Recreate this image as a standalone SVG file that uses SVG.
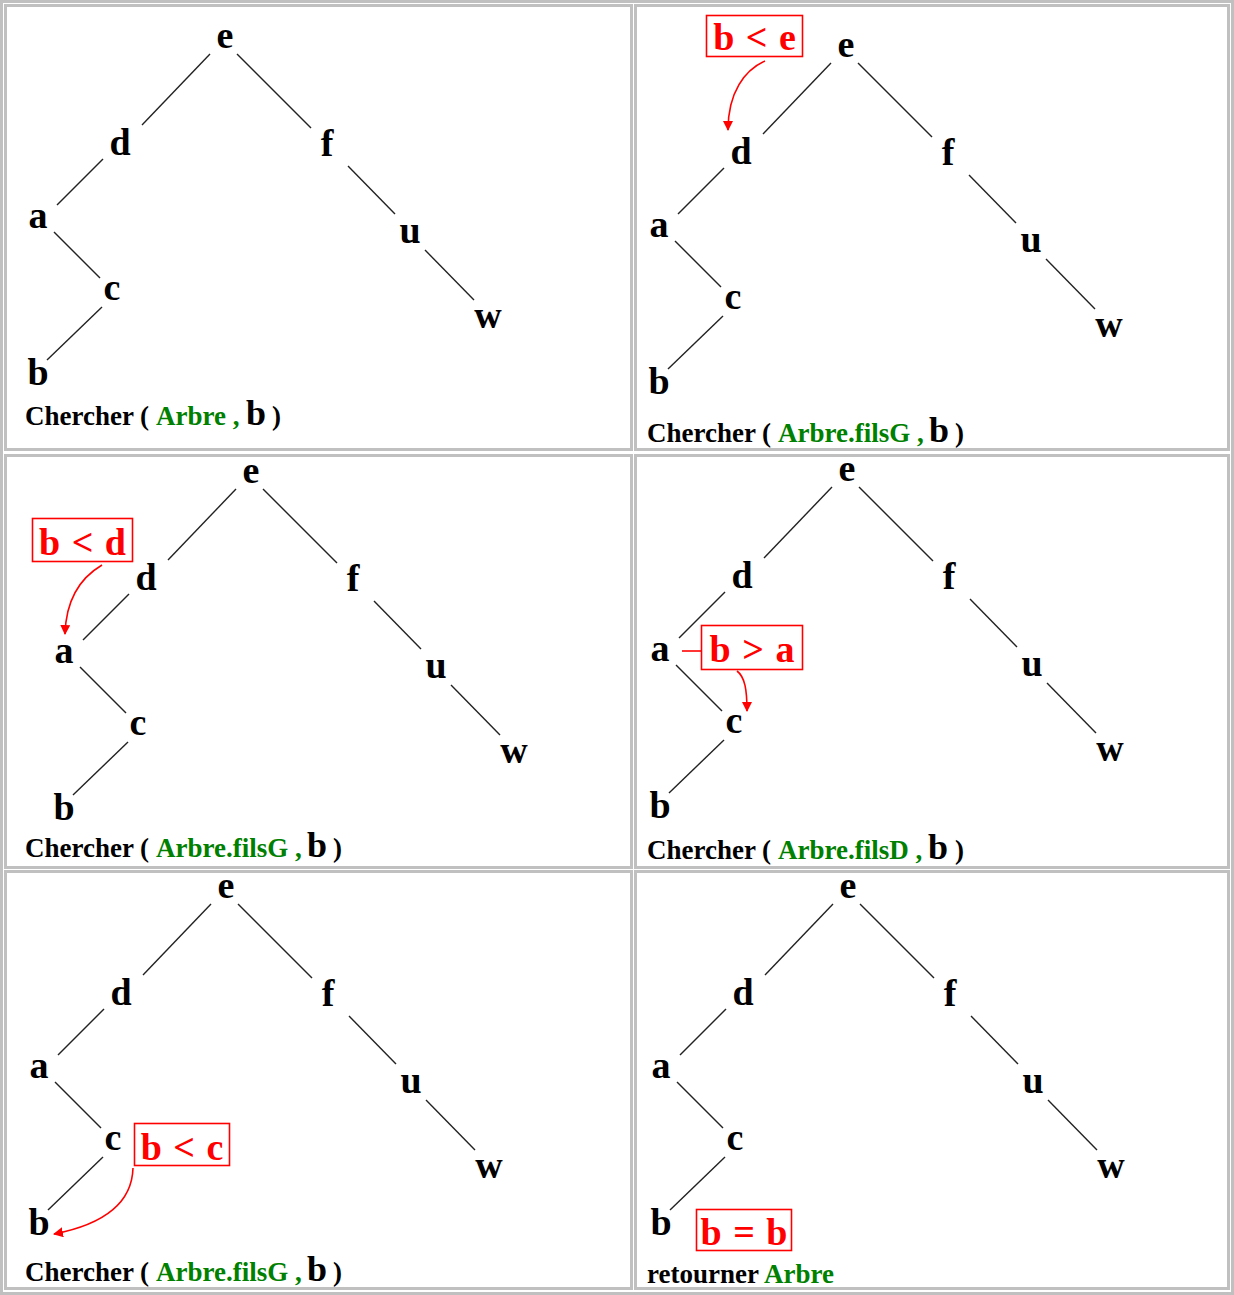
<svg xmlns="http://www.w3.org/2000/svg" width="1234" height="1295" viewBox="0 0 1234 1295">
<style>
.cell{fill:#fff;stroke:#c0c0c0;stroke-width:3}
.n{font-family:"Liberation Serif","Times New Roman",serif;font-weight:bold;font-size:38px;fill:#000;text-anchor:middle}
.e{stroke:#222;stroke-width:1.4;fill:none}
.t{font-family:"Liberation Serif","Times New Roman",serif;font-weight:bold;font-size:27px;fill:#000}
.g{fill:#008000}
.big{font-size:36px}
.box{fill:none;stroke:#ff0000;stroke-width:1.6}
.bt{font-family:"Liberation Serif","Times New Roman",serif;font-weight:bold;font-size:38px;fill:#ff0000;text-anchor:middle;word-spacing:2px}
.arr{fill:none;stroke:#ff0000;stroke-width:1.6}
</style>
<defs>
<marker id="ah" viewBox="0 0 10 10" refX="9" refY="5" markerWidth="10" markerHeight="10" markerUnits="userSpaceOnUse" orient="auto">
<path d="M0,0 L10,5 L0,10 z" fill="#ff0000"/>
</marker>
</defs>
<rect x="0" y="0" width="1234" height="1295" fill="#fff"/>
<rect x="1.5" y="1.5" width="1231" height="1292" fill="none" stroke="#c0c0c0" stroke-width="3"/>
<rect class="cell" x="5.5" y="5.5" width="626" height="444"/>
<rect class="cell" x="635.5" y="5.5" width="593" height="444"/>
<rect class="cell" x="5.5" y="455.5" width="626" height="412"/>
<rect class="cell" x="635.5" y="455.5" width="593" height="412"/>
<rect class="cell" x="5.5" y="871.5" width="626" height="417"/>
<rect class="cell" x="635.5" y="871.5" width="593" height="417"/>

<!-- Panel 1 -->
<g id="panel1">
<g id="p1-connectors">
<line class="e" x1="210" y1="54" x2="142" y2="125"/>
<line class="e" x1="237" y1="54" x2="311" y2="128"/>
<line class="e" x1="103" y1="159" x2="57" y2="205"/>
<line class="e" x1="54" y1="232" x2="100" y2="278"/>
<line class="e" x1="102" y1="307" x2="47" y2="360"/>
<line class="e" x1="348" y1="166" x2="395" y2="214"/>
<line class="e" x1="425" y1="250" x2="474" y2="300"/>
</g>
<g id="p1-e"><text class="n" x="225" y="48">e</text></g>
<g id="p1-d"><text class="n" x="120" y="155">d</text></g>
<g id="p1-f"><text class="n" x="327" y="156">f</text></g>
<g id="p1-a"><text class="n" x="38" y="228">a</text></g>
<g id="p1-c"><text class="n" x="112" y="300">c</text></g>
<g id="p1-u"><text class="n" x="410" y="243">u</text></g>
<g id="p1-w"><text class="n" x="488" y="328">w</text></g>
<g id="p1-b"><text class="n" x="38" y="385">b</text></g>
</g>
<g id="p1-caption">
<text class="t" x="25" y="425">Chercher</text>
<text class="t" x="140" y="425">(</text>
<text class="t g" x="156" y="425">Arbre ,</text>
<text class="t big" x="246" y="425">b</text>
<text class="t" x="272" y="425">)</text>
</g>

<!-- Panel 2 -->
<g id="panel2" transform="translate(621,9)">
<g id="p2-connectors">
<line class="e" x1="210" y1="54" x2="142" y2="125"/>
<line class="e" x1="237" y1="54" x2="311" y2="128"/>
<line class="e" x1="103" y1="159" x2="57" y2="205"/>
<line class="e" x1="54" y1="232" x2="100" y2="278"/>
<line class="e" x1="102" y1="307" x2="47" y2="360"/>
<line class="e" x1="348" y1="166" x2="395" y2="214"/>
<line class="e" x1="425" y1="250" x2="474" y2="300"/>
</g>
<g id="p2-e"><text class="n" x="225" y="48">e</text></g>
<g id="p2-d"><text class="n" x="120" y="155">d</text></g>
<g id="p2-f"><text class="n" x="327" y="156">f</text></g>
<g id="p2-a"><text class="n" x="38" y="228">a</text></g>
<g id="p2-c"><text class="n" x="112" y="300">c</text></g>
<g id="p2-u"><text class="n" x="410" y="243">u</text></g>
<g id="p2-w"><text class="n" x="488" y="328">w</text></g>
<g id="p2-b"><text class="n" x="38" y="385">b</text></g>
</g>
<g id="p2-note">
<rect class="box" x="706.5" y="15.5" width="96" height="41"/>
<text class="bt" x="754.5" y="50">b &lt; e</text>
<path class="arr" d="M765,61 C745,70 728,92 728,130" marker-end="url(#ah)"/>
</g>
<g id="p2-caption">
<text class="t" x="647" y="442">Chercher</text>
<text class="t" x="762" y="442">(</text>
<text class="t g" x="778" y="442">Arbre.filsG ,</text>
<text class="t big" x="929" y="442">b</text>
<text class="t" x="955" y="442">)</text>
</g>

<!-- Panel 3 -->
<g id="panel3" transform="translate(26,435)">
<g id="p3-connectors">
<line class="e" x1="210" y1="54" x2="142" y2="125"/>
<line class="e" x1="237" y1="54" x2="311" y2="128"/>
<line class="e" x1="103" y1="159" x2="57" y2="205"/>
<line class="e" x1="54" y1="232" x2="100" y2="278"/>
<line class="e" x1="102" y1="307" x2="47" y2="360"/>
<line class="e" x1="348" y1="166" x2="395" y2="214"/>
<line class="e" x1="425" y1="250" x2="474" y2="300"/>
</g>
<g id="p3-e"><text class="n" x="225" y="48">e</text></g>
<g id="p3-d"><text class="n" x="120" y="155">d</text></g>
<g id="p3-f"><text class="n" x="327" y="156">f</text></g>
<g id="p3-a"><text class="n" x="38" y="228">a</text></g>
<g id="p3-c"><text class="n" x="112" y="300">c</text></g>
<g id="p3-u"><text class="n" x="410" y="243">u</text></g>
<g id="p3-w"><text class="n" x="488" y="328">w</text></g>
<g id="p3-b"><text class="n" x="38" y="385">b</text></g>
</g>
<g id="p3-note">
<rect class="box" x="32.5" y="518.5" width="100" height="43"/>
<text class="bt" x="82.5" y="555">b &lt; d</text>
<path class="arr" d="M102,565 C80,578 66,600 65,634" marker-end="url(#ah)"/>
</g>
<g id="p3-caption">
<text class="t" x="25" y="857">Chercher</text>
<text class="t" x="140" y="857">(</text>
<text class="t g" x="156" y="857">Arbre.filsG ,</text>
<text class="t big" x="307" y="857">b</text>
<text class="t" x="333" y="857">)</text>
</g>

<!-- Panel 4 -->
<g id="panel4" transform="translate(622,433)">
<g id="p4-connectors">
<line class="e" x1="210" y1="54" x2="142" y2="125"/>
<line class="e" x1="237" y1="54" x2="311" y2="128"/>
<line class="e" x1="103" y1="159" x2="57" y2="205"/>
<line class="e" x1="54" y1="232" x2="100" y2="278"/>
<line class="e" x1="102" y1="307" x2="47" y2="360"/>
<line class="e" x1="348" y1="166" x2="395" y2="214"/>
<line class="e" x1="425" y1="250" x2="474" y2="300"/>
</g>
<g id="p4-e"><text class="n" x="225" y="48">e</text></g>
<g id="p4-d"><text class="n" x="120" y="155">d</text></g>
<g id="p4-f"><text class="n" x="327" y="156">f</text></g>
<g id="p4-a"><text class="n" x="38" y="228">a</text></g>
<g id="p4-c"><text class="n" x="112" y="300">c</text></g>
<g id="p4-u"><text class="n" x="410" y="243">u</text></g>
<g id="p4-w"><text class="n" x="488" y="328">w</text></g>
<g id="p4-b"><text class="n" x="38" y="385">b</text></g>
</g>
<g id="p4-note">
<line class="arr" x1="682" y1="651" x2="701" y2="651"/>
<rect class="box" x="701.5" y="625.5" width="101" height="44"/>
<text class="bt" x="752" y="662">b &gt; a</text>
<path class="arr" d="M737,671 C745,677 747,690 747,711" marker-end="url(#ah)"/>
</g>
<g id="p4-caption">
<text class="t" x="647" y="859">Chercher</text>
<text class="t" x="762" y="859">(</text>
<text class="t g" x="778" y="859">Arbre.filsD ,</text>
<text class="t big" x="928" y="859">b</text>
<text class="t" x="955" y="859">)</text>
</g>

<!-- Panel 5 -->
<g id="panel5" transform="translate(1,850)">
<g id="p5-connectors">
<line class="e" x1="210" y1="54" x2="142" y2="125"/>
<line class="e" x1="237" y1="54" x2="311" y2="128"/>
<line class="e" x1="103" y1="159" x2="57" y2="205"/>
<line class="e" x1="54" y1="232" x2="100" y2="278"/>
<line class="e" x1="102" y1="307" x2="47" y2="360"/>
<line class="e" x1="348" y1="166" x2="395" y2="214"/>
<line class="e" x1="425" y1="250" x2="474" y2="300"/>
</g>
<g id="p5-e"><text class="n" x="225" y="48">e</text></g>
<g id="p5-d"><text class="n" x="120" y="155">d</text></g>
<g id="p5-f"><text class="n" x="327" y="156">f</text></g>
<g id="p5-a"><text class="n" x="38" y="228">a</text></g>
<g id="p5-c"><text class="n" x="112" y="300">c</text></g>
<g id="p5-u"><text class="n" x="410" y="243">u</text></g>
<g id="p5-w"><text class="n" x="488" y="328">w</text></g>
<g id="p5-b"><text class="n" x="38" y="385">b</text></g>
</g>
<g id="p5-note">
<rect class="box" x="134.5" y="1123.5" width="95" height="42"/>
<text class="bt" x="182" y="1160">b &lt; c</text>
<path class="arr" d="M133,1168 C132,1205 100,1225 54,1234" marker-end="url(#ah)"/>
</g>
<g id="p5-caption">
<text class="t" x="25" y="1281">Chercher</text>
<text class="t" x="140" y="1281">(</text>
<text class="t g" x="156" y="1281">Arbre.filsG ,</text>
<text class="t big" x="307" y="1281">b</text>
<text class="t" x="333" y="1281">)</text>
</g>

<!-- Panel 6 -->
<g id="panel6" transform="translate(623,850)">
<g id="p6-connectors">
<line class="e" x1="210" y1="54" x2="142" y2="125"/>
<line class="e" x1="237" y1="54" x2="311" y2="128"/>
<line class="e" x1="103" y1="159" x2="57" y2="205"/>
<line class="e" x1="54" y1="232" x2="100" y2="278"/>
<line class="e" x1="102" y1="307" x2="47" y2="360"/>
<line class="e" x1="348" y1="166" x2="395" y2="214"/>
<line class="e" x1="425" y1="250" x2="474" y2="300"/>
</g>
<g id="p6-e"><text class="n" x="225" y="48">e</text></g>
<g id="p6-d"><text class="n" x="120" y="155">d</text></g>
<g id="p6-f"><text class="n" x="327" y="156">f</text></g>
<g id="p6-a"><text class="n" x="38" y="228">a</text></g>
<g id="p6-c"><text class="n" x="112" y="300">c</text></g>
<g id="p6-u"><text class="n" x="410" y="243">u</text></g>
<g id="p6-w"><text class="n" x="488" y="328">w</text></g>
<g id="p6-b"><text class="n" x="38" y="385">b</text></g>
</g>
<g id="p6-note">
<rect class="box" x="696.5" y="1209.5" width="95" height="41"/>
<text class="bt" x="744" y="1245">b = b</text>
</g>
<g id="p6-caption">
<text class="t" x="647" y="1283">retourner</text>
<text class="t g" x="764" y="1283">Arbre</text>
</g>
</svg>
